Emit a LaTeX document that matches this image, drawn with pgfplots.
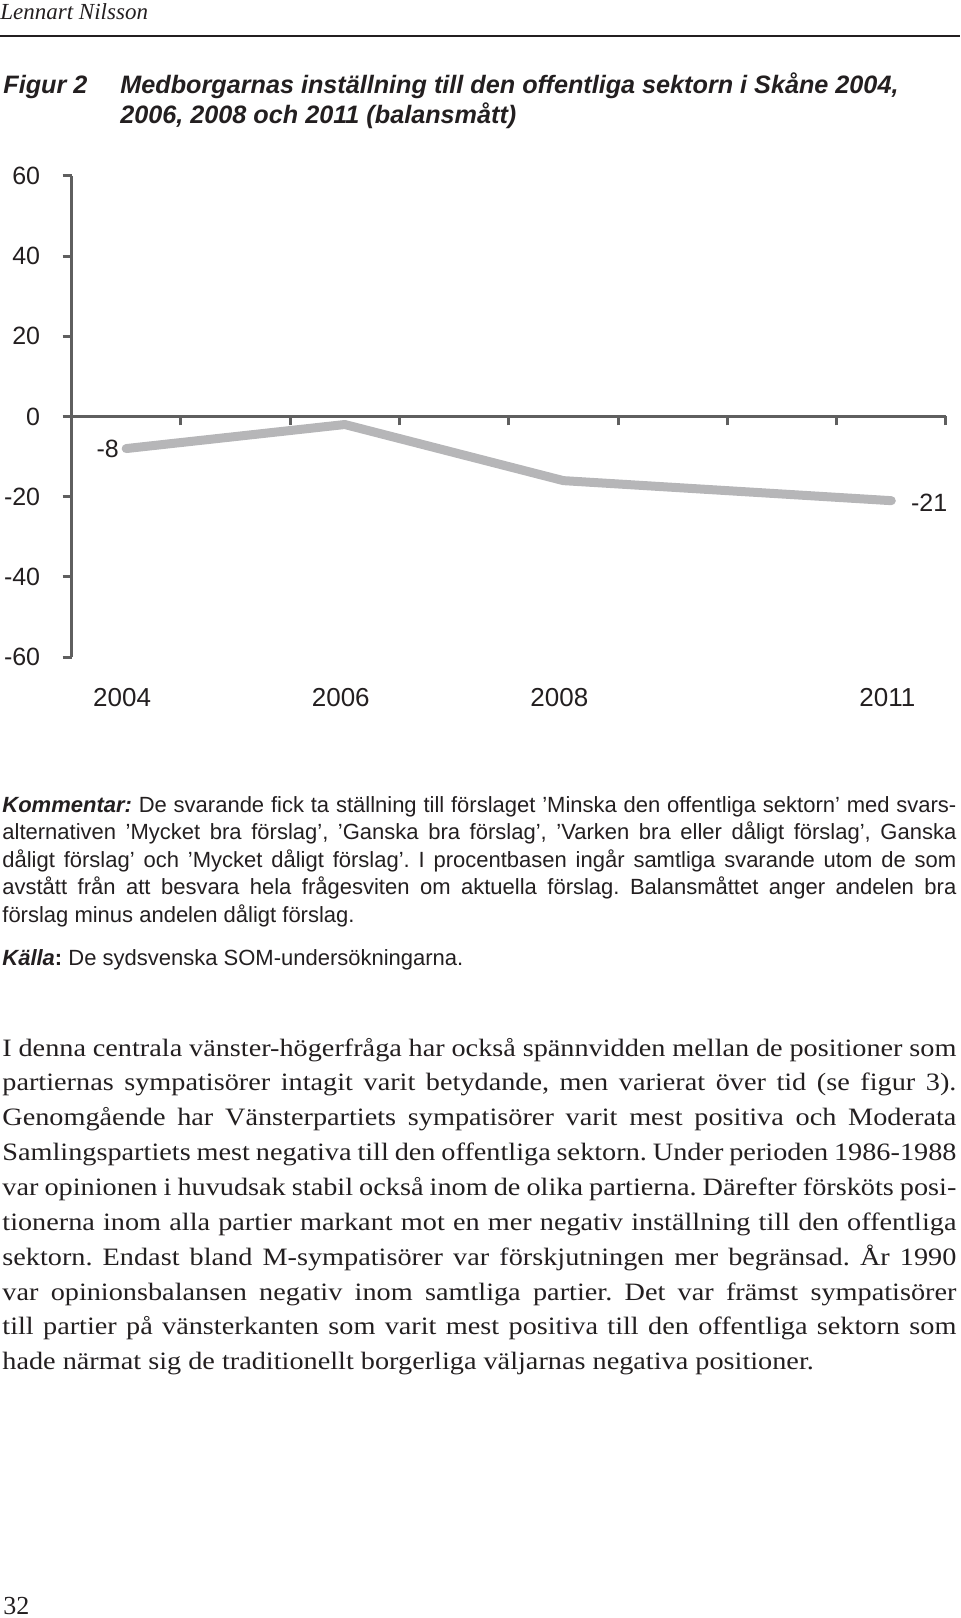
\documentclass[border=0pt]{standalone}
\usepackage{pgfplots}
\pgfplotsset{compat=1.18}
\usepackage{fontspec}
\setmainfont{Liberation Serif}
\newfontfamily\arial{Liberation Sans}
\newfontfamily\bodyserif[FakeStretch=1.13]{Liberation Serif}
\definecolor{axisgray}{RGB}{95,95,95}
\definecolor{linegray}{RGB}{182,182,184}
\definecolor{ink}{RGB}{35,31,32}
\newcommand{\kfont}{\arial\fontsize{11.0}{13}\selectfont\frenchspacing}
\newcommand{\bfont}{\bodyserif\fontsize{12.5}{15}\selectfont\frenchspacing}
\newcommand{\jl}[1]{\hbox to 477pt{#1}}
\begin{document}
\begin{tikzpicture}
\useasboundingbox (0,0) rectangle (480pt,-809pt);
% header
\node[anchor=base west, inner sep=0, text=ink, font=\itshape\fontsize{11.5}{13}\selectfont] at (0pt,-9.5pt) {Lennart Nilsson};
\draw[ink, line width=0.7pt] (0,-18pt) -- (480pt,-18pt);
% title
\node[anchor=base west, inner sep=0, text=ink, font=\arial\bfseries\itshape\fontsize{12.6}{15}\selectfont] at (1.5pt,-46.5pt) {Figur 2};
\node[anchor=base west, inner sep=0, text=ink, font=\arial\bfseries\itshape\fontsize{12.6}{15}\selectfont] at (60pt,-46.5pt) {Medborgarnas inställning till den offentliga sektorn i Skåne 2004,};
\node[anchor=base west, inner sep=0, text=ink, font=\arial\bfseries\itshape\fontsize{12.6}{15}\selectfont] at (60pt,-61.5pt) {2006, 2008 och 2011 (balansmått)};

% chart: axis lines, ticks, data
\begin{axis}[
  at={(35.75pt,-328.5pt)}, anchor=south west,
  scale only axis, width=437.25pt, height=240.5pt,
  xmin=2003.5, xmax=2011.5, ymin=-60, ymax=60,
  axis x line=middle, axis y line=left,
  axis line style={draw=axisgray, line width=1.6pt, -},
  xtick={2004.5,2005.5,2006.5,2007.5,2008.5,2009.5,2010.5,2011.5},
  xticklabels={},
  ytick={-60,-40,-20,0,20,40,60},
  hide obscured x ticks=false, hide obscured y ticks=false,
  tick align=outside,
  major tick length=4.5pt,
  every tick/.style={draw=axisgray, line width=1.5pt},
  yticklabel style={font=\arial\fontsize{12.5}{14}\selectfont, text=ink, anchor=east, inner sep=0pt, xshift=-11pt},
  /pgf/number format/assume math mode=true,
  clip=false,
]
\addplot[color=linegray, line width=4.5pt, line cap=round, line join=round, mark=none]
  coordinates {(2004,-8) (2006,-2) (2008,-16) (2011,-21)};
\addplot[draw=none, mark=none, nodes near coords, point meta=explicit symbolic,
  every node near coord/.style={font=\arial\fontsize{12.5}{14}\selectfont, text=ink, anchor=east, inner sep=0pt, xshift=-3.5pt}]
  coordinates {(2004,-8) [-8]};
\addplot[draw=none, mark=none, nodes near coords, point meta=explicit symbolic,
  every node near coord/.style={font=\arial\fontsize{12.5}{14}\selectfont, text=ink, anchor=west, inner sep=0pt, xshift=9.7pt, yshift=-1pt}]
  coordinates {(2011,-21) [-21]};
\end{axis}
% chart: bottom year labels
\begin{axis}[
  at={(35.75pt,-328.5pt)}, anchor=south west,
  scale only axis, width=437.25pt, height=240.5pt,
  xmin=2003.5, xmax=2011.5, ymin=-60, ymax=60,
  axis x line=bottom, axis y line=none,
  x axis line style={draw=none, -},
  xtick={2004,2006,2008,2011},
  xticklabels={2004,2006,2008,2011},
  major tick length=0pt,
  xtick style={draw=none},
  ytick=\empty,
  xticklabel style={font=\arial\fontsize{13}{14}\selectfont, text=ink, anchor=center, inner sep=0pt, yshift=-20.35pt, xshift=-2pt},
  clip=false,
]
\addplot[draw=none, mark=none] coordinates {(2004,0) (2011,0)};
\end{axis}

% Kommentar
\begin{scope}[every node/.style={anchor=base west, inner sep=0, text=ink, font=\kfont}]
\node at (1pt,-406pt) {\jl{\textbf{\textit{Kommentar:}} De svarande fick ta ställning till förslaget ’Minska den offentliga sektorn’ med svars-}};
\node at (1pt,-419.75pt) {\jl{alternativen ’Mycket bra förslag’, ’Ganska bra förslag’, ’Varken bra eller dåligt förslag’, Ganska}};
\node at (1pt,-433.5pt) {\jl{dåligt förslag’ och ’Mycket dåligt förslag’. I procentbasen ingår samtliga svarande utom de som}};
\node at (1pt,-447.25pt) {\jl{avstått från att besvara hela frågesviten om aktuella förslag. Balansmåttet anger andelen bra}};
\node at (1pt,-461pt) {förslag minus andelen dåligt förslag.};
\node at (1pt,-482.5pt) {\textbf{\textit{Källa}}\textbf{:} De sydsvenska SOM-undersökningarna.};
\end{scope}

% body text
\begin{scope}[every node/.style={anchor=base west, inner sep=0, text=ink, font=\bfont}]
\node at (1pt,-528pt) {\jl{I denna centrala vänster-högerfråga har också spännvidden mellan de positioner som}};
\node at (1pt,-545.4pt) {\jl{partiernas sympatisörer intagit varit betydande, men varierat över tid (se figur 3).}};
\node at (1pt,-562.85pt) {\jl{Genomgående har Vänsterpartiets sympatisörer varit mest positiva och Moderata}};
\node at (1pt,-580.3pt) {\jl{Samlingspartiets mest negativa till den offentliga sektorn. Under perioden 1986-1988}};
\node at (1pt,-597.7pt) {\jl{var opinionen i huvudsak stabil också inom de olika partierna. Därefter försköts posi-}};
\node at (1pt,-615.1pt) {\jl{tionerna inom alla partier markant mot en mer negativ inställning till den offentliga}};
\node at (1pt,-632.6pt) {\jl{sektorn. Endast bland M-sympatisörer var förskjutningen mer begränsad. År 1990}};
\node at (1pt,-650pt) {\jl{var opinionsbalansen negativ inom samtliga partier. Det var främst sympatisörer}};
\node at (1pt,-667.4pt) {\jl{till partier på vänsterkanten som varit mest positiva till den offentliga sektorn som}};
\node at (1pt,-684.9pt) {hade närmat sig de traditionellt borgerliga väljarnas negativa positioner.};
\end{scope}

% page number
\node[anchor=base west, inner sep=0, text=ink, font=\fontsize{13}{15}\selectfont] at (1.5pt,-807pt) {32};
\end{tikzpicture}
\end{document}
